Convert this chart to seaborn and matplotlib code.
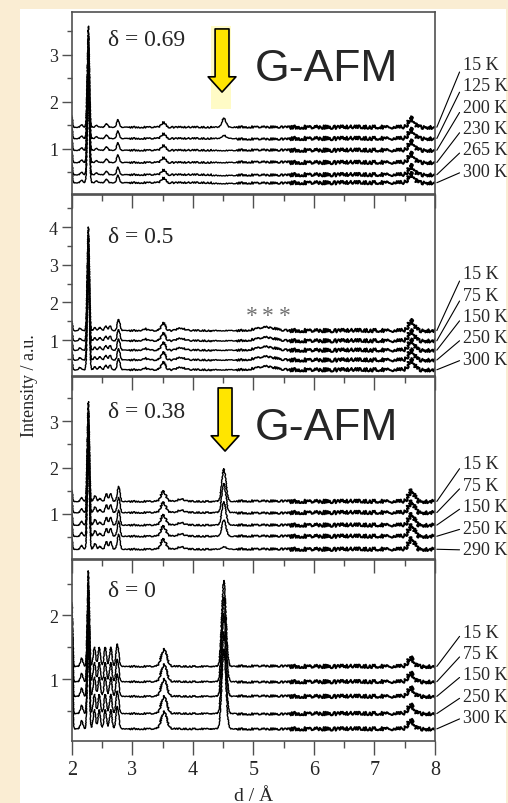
import numpy as np
import pandas as pd
import matplotlib
matplotlib.use("Agg")
import matplotlib.pyplot as plt
import seaborn as sns
from matplotlib.patches import Rectangle
from matplotlib.ticker import MultipleLocator

sns.set_theme(style="white")
plt.rcParams["font.family"] = ["Liberation Serif", "DejaVu Serif"]

# ---------------------------------------------------------------- data
# d-spacing range of the patterns (Å)
d_range = [2.0, 8.0]

# δ = 0.69
temps_069 = ["15 K", "125 K", "200 K", "230 K", "265 K", "300 K"]
offset_069 = [1.46, 1.22, 0.97, 0.71, 0.45, 0.28]
peak_d_069 = [1.99, 2.16, 2.27, 2.41, 2.57, 2.76, 3.51, 7.61]
peak_sig_069 = [0.015, 0.02, 0.017, 0.02, 0.02, 0.022, 0.035, 0.045]
peak_h_069 = [0.30, 0.05, 2.15, 0.04, 0.07, 0.16, 0.10, 0.20]
afm_h_069 = [0.19, 0.07, 0.0, 0.0, 0.0, 0.0]

# δ = 0.5
temps_050 = ["15 K", "75 K", "150 K", "250 K", "300 K"]
offset_050 = [1.25, 0.98, 0.73, 0.47, 0.21]
peak_d_050 = [1.99, 2.13, 2.27, 2.38, 2.46, 2.56, 2.63, 2.77, 3.20, 3.51, 3.80, 5.20, 7.61]
peak_sig_050 = [0.015, 0.02, 0.017, 0.02, 0.02, 0.02, 0.02, 0.022, 0.04, 0.035, 0.06, 0.15, 0.045]
peak_h_050 = [0.30, 0.06, 2.75, 0.08, 0.08, 0.12, 0.12, 0.30, 0.05, 0.20, 0.06, 0.09, 0.27]
afm_h_050 = [0.0, 0.0, 0.0, 0.0, 0.0]

# δ = 0.38
temps_038 = ["15 K", "75 K", "150 K", "250 K", "290 K"]
offset_038 = [1.27, 1.03, 0.76, 0.52, 0.24]
peak_d_038 = [1.99, 2.16, 2.27, 2.38, 2.46, 2.57, 2.64, 2.77, 3.51, 3.80, 7.61]
peak_sig_038 = [0.015, 0.02, 0.017, 0.02, 0.02, 0.02, 0.02, 0.022, 0.04, 0.05, 0.045]
peak_h_038 = [0.30, 0.08, 2.15, 0.12, 0.06, 0.17, 0.17, 0.32, 0.22, 0.05, 0.24]
afm_h_038 = [0.70, 0.62, 0.50, 0.35, 0.06]

# δ = 0
temps_000 = ["15 K", "75 K", "150 K", "250 K", "300 K"]
offset_000 = [1.20, 0.96, 0.73, 0.46, 0.22]
peak_d_000 = [2.00, 2.16, 2.27, 2.37, 2.45, 2.55, 2.64, 2.75, 3.52, 7.60]
peak_sig_000 = [0.012, 0.02, 0.017, 0.02, 0.02, 0.02, 0.02, 0.022, 0.045, 0.045]
peak_h_000 = [1.00, 0.13, 1.50, 0.30, 0.30, 0.30, 0.30, 0.35, 0.27, 0.14]
afm_h_000 = [1.35, 1.33, 1.30, 1.28, 1.25]

# magnetic (G-AFM) reflection
afm_d = 4.51
afm_sig = 0.034

# ---------------------------------------------------------------- layout
W, H = 508, 804
ax_left, ax_right = 72, 435
panels = [
    dict(label="δ = 0.69", temps=temps_069, off=offset_069, pd_=peak_d_069,
         ps=peak_sig_069, ph=peak_h_069, afm=afm_h_069,
         top=13, bot=195, ylim=(0.04, 3.91), ymaj=[1, 2, 3],
         lab_top=0.714, lab_y=0.85),
    dict(label="δ = 0.5", temps=temps_050, off=offset_050, pd_=peak_d_050,
         ps=peak_sig_050, ph=peak_h_050, afm=afm_h_050,
         top=196, bot=377, ylim=(0.045, 4.85), ymaj=[1, 2, 3, 4],
         lab_top=0.564, lab_y=0.77),
    dict(label="δ = 0.38", temps=temps_038, off=offset_038, pd_=peak_d_038,
         ps=peak_sig_038, ph=peak_h_038, afm=afm_h_038,
         top=378, bot=560, ylim=(0.03, 3.95), ymaj=[1, 2, 3],
         lab_top=0.522, lab_y=0.81),
    dict(label="δ = 0", temps=temps_000, off=offset_000, pd_=peak_d_000,
         ps=peak_sig_000, ph=peak_h_000, afm=afm_h_000,
         top=561, bot=742, ylim=(0.03, 2.87), ymaj=[1, 2],
         lab_top=0.602, lab_y=0.83),
]

# counting noise grows towards long d: each pattern is drawn in stretches
# with different amounts of sketch jitter (start, end, jitter px, width)
stretches = [(2.0, 2.95, 0.35, 1.0), (2.95, 4.3, 0.8, 1.1), (4.3, 4.72, 0.45, 1.0),
             (4.72, 5.6, 1.0, 1.2), (5.6, 8.0, 1.8, 1.45)]

spine_col = "#505050"
cream = "#FAEDD3"

fig = plt.figure(figsize=(W / 100, H / 100), dpi=100, facecolor=cream)
fig.patches.append(Rectangle((20 / W, 0), 486 / W, 794 / H, transform=fig.transFigure,
                             facecolor="white", edgecolor="none", zorder=-10))

d = np.linspace(d_range[0], d_range[1], 2401)


def pattern(offset, pos, sig, hgt, afm):
    y = np.full_like(d, offset)
    for p, s, h in zip(pos, sig, hgt):
        y = y + h * np.exp(-0.5 * ((d - p) / s) ** 2)
    y = y + afm * np.exp(-0.5 * ((d - afm_d) / afm_sig) ** 2)
    return y


axes = []
for i, p in enumerate(panels):
    ax = fig.add_axes([ax_left / W, 1 - p["bot"] / H,
                       (ax_right - ax_left) / W, (p["bot"] - p["top"]) / H])
    ax.set_facecolor("none")
    frames = []
    for t, off, a in zip(p["temps"], p["off"], p["afm"]):
        frames.append(pd.DataFrame({"d": d, "I": pattern(off, p["pd_"], p["ps"], p["ph"], a), "T": t}))
    df = pd.concat(frames, ignore_index=True)
    for lo, hi, jitter, lw in stretches:
        part = df[(df["d"] >= lo - 1e-9) & (df["d"] <= hi + 1e-9)]
        n_before = len(ax.lines)
        sns.lineplot(data=part, x="d", y="I", hue="T", palette=["black"] * len(p["temps"]),
                     estimator=None, sort=False, legend=False, linewidth=lw, ax=ax)
        for ln in ax.lines[n_before:]:
            ln.set_sketch_params(scale=jitter, length=1.2, randomness=3.0)

    ax.set_xlim(*d_range)
    ax.set_ylim(*p["ylim"])
    ax.set_xlabel("")
    ax.set_ylabel("")
    ax.set_yticks(p["ymaj"])
    ax.yaxis.set_minor_locator(MultipleLocator(0.5))
    ax.xaxis.set_major_locator(MultipleLocator(1))
    ax.xaxis.set_minor_locator(MultipleLocator(0.5))
    for s in ax.spines.values():
        s.set_color(spine_col)
        s.set_linewidth(1.2)
    ax.tick_params(axis="y", which="major", direction="out", length=7, width=1.0,
                   color=spine_col, labelsize=13, pad=3, left=True)
    ax.tick_params(axis="y", which="minor", direction="out", length=3.5, width=1.0,
                   color=spine_col, left=True)
    ax.tick_params(axis="x", which="major", direction="out", length=10, width=1.0,
                   color=spine_col, labelsize=14.5, pad=4, bottom=True)
    ax.tick_params(axis="x", which="minor", direction="out", length=5, width=1.0,
                   color=spine_col, bottom=True)
    if i < len(panels) - 1:
        ax.tick_params(axis="x", labelbottom=False)

    tr = ax.get_xaxis_transform()
    ax.text(2.6, p["lab_y"], p["label"], transform=tr, fontsize=17, va="center", ha="left")

    # temperature labels with leader lines
    for k, (t, off) in enumerate(zip(p["temps"], p["off"])):
        ax.annotate(t, xy=(8.03, off), xycoords="data",
                    xytext=(8.46, p["lab_top"] - 0.118 * k), textcoords=tr,
                    fontsize=13, ha="left", va="center", annotation_clip=False,
                    arrowprops=dict(arrowstyle="-", color="black", lw=0.8,
                                    shrinkA=0, shrinkB=0, relpos=(0, 0.5)))
    axes.append(ax)

# G-AFM markers
ax1, ax2, ax3, ax4 = axes
tr1 = ax1.get_xaxis_transform()
ax1.add_patch(Rectangle((4.30, 0.467), 0.33, 0.456, transform=tr1,
                        facecolor="#FFFBC6", edgecolor="none", zorder=0.5))
arrow_style = "simple,head_length=1.1,head_width=2.0,tail_width=1.0"
for ax, x, y0, y1 in [(ax1, 4.48, 0.907, 0.56), (ax3, 4.53, 0.94, 0.593)]:
    ax.annotate("", xy=(x, y1), xycoords=ax.get_xaxis_transform(),
                xytext=(x, y0), textcoords=ax.get_xaxis_transform(),
                arrowprops=dict(arrowstyle=arrow_style, mutation_scale=10,
                                facecolor="#FFE500", edgecolor="black", lw=1.2,
                                shrinkA=0, shrinkB=0))
for ax, y in [(ax1, 0.687), (ax3, 0.725)]:
    ax.text(5.02, y, "G-AFM", transform=ax.get_xaxis_transform(),
            family=["Liberation Sans", "DejaVu Sans"], fontsize=32, va="center", ha="left")

# unidentified reflections in δ = 0.5
for x in [4.97, 5.24, 5.52]:
    ax2.text(x, 1.65, "*", fontsize=17, color="#707070", ha="center", va="center")

fig.text((ax_left + ax_right) / 2 / W, 1 - 797 / H, "d / Å", fontsize=14, ha="center", va="center")
fig.text(30 / W, 1 - 386 / H, "Intensity / a.u.", fontsize=13, rotation=90,
         ha="center", va="center")

fig.savefig("out.png", dpi=100, facecolor=cream)
